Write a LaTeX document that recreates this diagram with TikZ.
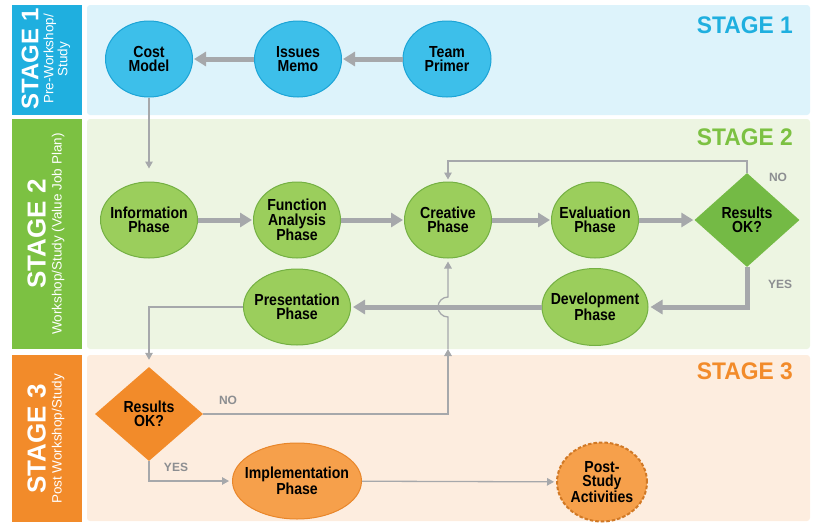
\documentclass[tikz,border=0pt]{standalone}
\usepackage{fontspec}
\setmainfont{Liberation Sans}
\newfontfamily\condsans{Liberation Sans}[FakeStretch=0.88]
\newfontfamily\titlesans{Liberation Sans}[FakeStretch=0.95]
\usetikzlibrary{shapes.geometric,arrows.meta}

% palette
\definecolor{bandblue}{HTML}{DDF3FB}
\definecolor{bandgreen}{HTML}{EDF5E2}
\definecolor{bandorange}{HTML}{FDEDDF}
\definecolor{barblue}{HTML}{1FAFDF}
\definecolor{bargreen}{HTML}{7CC142}
\definecolor{barorange}{HTML}{F28B2A}
\definecolor{fillblue}{HTML}{3DBFEA}
\definecolor{edgeblue}{HTML}{1CA4D6}
\definecolor{fillgreen}{HTML}{9BCE5C}
\definecolor{edgegreen}{HTML}{74B043}
\definecolor{diamondgreen}{HTML}{74BA45}
\definecolor{fillorange}{HTML}{F6A04B}
\definecolor{edgeorange}{HTML}{E8862A}
\definecolor{linkgray}{HTML}{A6A8AB}
\definecolor{notegray}{HTML}{8C8E91}

\begin{document}
\begin{tikzpicture}[x=1pt,y=-1pt,
  nodetext/.style={font=\condsans\bfseries\fontsize{16}{14.5}\selectfont, align=center, text=black},
  oval/.style={nodetext, ellipse, inner xsep=-14pt, inner ysep=-2pt, line width=1pt, minimum width=87pt, minimum height=76pt},
  blueoval/.style={oval, fill=fillblue, draw=edgeblue},
  greenoval/.style={oval, fill=fillgreen, draw=edgegreen},
  orangeoval/.style={oval, fill=fillorange, draw=edgeorange},
  greendiamond/.style={nodetext, diamond, inner sep=0pt, fill=diamondgreen, draw=none, minimum width=105pt, minimum height=94pt},
  orangediamond/.style={nodetext, diamond, inner sep=0pt, fill=barorange, draw=none, minimum width=108pt, minimum height=94pt},
  bigflow/.style={draw=linkgray, line width=5pt, -{Triangle[length=12pt,width=14pt]}},
  thinflow/.style={draw=linkgray, line width=1.3pt, -{Triangle[length=7pt,width=7.5pt]}},
  thinline/.style={draw=linkgray, line width=1.3pt},
  answer/.style={font=\bfseries\fontsize{12}{12}\selectfont, text=notegray, inner sep=0pt},
  stagetitle/.style={font=\titlesans\bfseries\fontsize{24}{24}\selectfont, anchor=east, inner sep=0pt},
  sidetext/.style={rotate=90, align=center, text=white, inner sep=0pt, font=\fontsize{13.5}{14}\selectfont},
]
\useasboundingbox (0,0) rectangle (814,525);

% stage bands
\fill[bandblue, rounded corners=3pt] (87,5) rectangle (810,115);
\fill[bandgreen, rounded corners=3pt] (87,119) rectangle (810,349);
\fill[bandorange, rounded corners=3pt] (87,355) rectangle (810,521);

% side bars
\fill[barblue] (12,5) rectangle (82,115);
\fill[bargreen] (12,119) rectangle (82,349);
\fill[barorange] (12,355) rectangle (82,522);

\node[sidetext] (side1) at (46,59) {{\fontsize{24}{22}\selectfont\bfseries STAGE 1}\\[1pt]Pre-Workshop/\\Study};
\node[sidetext] (side2) at (46,234) {{\fontsize{26}{24}\selectfont\bfseries STAGE 2}\\[2pt]Workshop/Study (Value Job Plan)};
\node[sidetext] (side3) at (46,439) {{\fontsize{26}{24}\selectfont\bfseries STAGE 3}\\[2pt]Post Workshop/Study};

% stage titles
\node[stagetitle, text=barblue] (t1) at (793,25) {STAGE 1};
\node[stagetitle, text=bargreen] (t2) at (793,137) {STAGE 2};
\node[stagetitle, text=barorange] (t3) at (793,371) {STAGE 3};

% stage 1
\node[blueoval] (cost) at (149,59) {Cost\\Model};
\node[blueoval] (memo) at (298,59) {Issues\\Memo};
\node[blueoval, minimum width=88pt] (team) at (447,59) {Team\\Primer};

% stage 2
\node[greenoval, minimum width=97pt] (info) at (149,220) {Information\\Phase};
\node[greenoval] (func) at (297,220) {Function\\Analysis\\Phase};
\node[greenoval] (cre) at (448,220) {Creative\\Phase};
\node[greenoval] (eval) at (595,220) {Evaluation\\Phase};
\node[greendiamond] (ok1) at (747,220) {Results\\OK?};
\node[greenoval, minimum width=106pt, minimum height=77pt] (dev) at (595,307) {Development\\Phase};
\node[greenoval, minimum width=107pt] (pres) at (297,307) {Presentation\\Phase};

% stage 3
\node[orangediamond] (ok2) at (149,414) {Results\\OK?};
\node[orangeoval, minimum width=129pt] (impl) at (297,481) {Implementation\\Phase};
\node[oval, fill=fillorange, draw=edgeorange!90!black, line width=2pt, dash pattern=on 3.5pt off 2pt, minimum width=90pt, minimum height=79pt] (post) at (602,482) {Post-\\Study\\Activities};

% answers
\node[answer] (no1) at (778,177) {NO};
\node[answer] (yes1) at (780,284) {YES};
\node[answer] (no2) at (228,400) {NO};
\node[answer] (yes2) at (176,467) {YES};

% helper points
\coordinate (loopTop) at (747,161);
\coordinate (midTip) at (448,349);
\coordinate (hopLow) at (448,317);

% stage 1 flow
\draw[bigflow, shorten >=1pt] (team) -- (memo);
\draw[bigflow, shorten >=1pt] (memo) -- (cost);
\draw[thinflow, shorten >=13pt] (cost) -- (info);

% stage 2 flow
\draw[bigflow, shorten >=1pt] (info) -- (func);
\draw[bigflow, shorten >=1pt] (func) -- (cre);
\draw[bigflow, shorten >=1pt] (cre) -- (eval);
\draw[bigflow, shorten >=1pt] (eval) -- (ok1);
\draw[thinflow, shorten >=2pt] (ok1.north) -- (loopTop) -| (cre.north);
\draw[bigflow, shorten >=2pt] (ok1.south) |- (dev.east);
\draw[bigflow, shorten >=2pt] (dev) -- (pres);
\draw[thinflow, shorten >=7pt] (pres.west) -| (ok2.north);

% stage 3 flow, hopping over the development-to-presentation line
\draw[thinflow] (ok2.east) -| (midTip);
\draw[thinflow, shorten >=3pt] (midTip) -- (hopLow) arc[start angle=270, end angle=90, radius=10pt] -- (cre.south);
\draw[thinflow, shorten >=3pt] (ok2.south) |- (impl.west);
\draw[thinflow, shorten >=2pt] (impl) -- (post);
\end{tikzpicture}
\end{document}
